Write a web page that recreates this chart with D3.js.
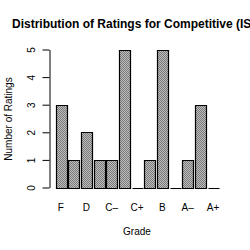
<!DOCTYPE html>
<html>
<head>
<meta charset="utf-8">
<script src="https://cdn.jsdelivr.net/npm/d3@7"></script>
<style>
html,body{margin:0;padding:0;background:#fff;}
svg{display:block;}
text{font-family:"Liberation Sans",Arial,Helvetica,sans-serif;fill:#000;}
</style>
</head>
<body>
<svg id="chart" width="250" height="250"></svg>
<script>
const categories = ["F","D-","D","D+","C-","C","C+","B-","B","B+","A-","A","A+"];
const counts = [3,1,2,1,1,5,0,1,5,0,1,3,0];
const tickLabels = ["F","","D","","C\u2013","","C+","","B","","A\u2013","","A+"];
const yTicks = [0,1,2,3,4,5];
const title = "Distribution of Ratings for Competitive (IS";

const svg = d3.select("#chart");
const defs = svg.append("defs");
const pat = defs.append("pattern").attr("id","dither")
  .attr("patternUnits","userSpaceOnUse").attr("width",2).attr("height",2);
pat.append("rect").attr("width",2).attr("height",2).attr("fill","#bdbdbd");
pat.append("rect").attr("x",0).attr("y",0).attr("width",1).attr("height",1).attr("fill","#7a7a7a");
pat.append("rect").attr("x",1).attr("y",1).attr("width",1).attr("height",1).attr("fill","#7a7a7a");

const x = d3.scaleBand().domain(categories).range([55.5,218.5]).paddingInner(0.15).paddingOuter(0);
const y = d3.scaleLinear().domain([0,5]).range([187.5,49.5]);

svg.append("g").selectAll("path").data(categories).join("path")
  .attr("d", (d,i) => {
    const x0 = Math.round(x(d)) + 0.5;
    const w = Math.round(x.bandwidth());
    const y0 = Math.round(y(0)) + 0.5;
    const y1 = Math.round(y(counts[i])) + 0.5;
    return `M${x0},${y0}H${x0+w}V${y1}H${x0}Z`;
  })
  .attr("fill","url(#dither)")
  .attr("stroke","#000").attr("stroke-width",1.2);

const yAxis = svg.append("g").attr("transform","translate(49.5,0)")
  .call(d3.axisLeft(y).tickValues(yTicks).tickFormat(d3.format("d")).tickSize(7).tickSizeOuter(0));
yAxis.select(".domain").attr("stroke","#000").attr("stroke-width",1);
yAxis.selectAll(".tick line").attr("stroke","#000");
yAxis.selectAll(".tick text")
  .attr("x",null).attr("dy",null)
  .attr("transform","translate(-15,0) rotate(-90)")
  .attr("text-anchor","middle")
  .style("font-size","10px")
  .style("font-family","'Liberation Sans',Arial,sans-serif");

svg.append("g").selectAll("text").data(categories).join("text")
  .attr("x", d => x(d) + x.bandwidth()/2)
  .attr("y", 211)
  .attr("text-anchor","middle")
  .style("font-size","10px")
  .text((d,i) => tickLabels[i]);

svg.append("text").attr("x",137).attr("y",235).attr("text-anchor","middle")
  .style("font-size","10px").text("Grade");

svg.append("text").attr("transform","translate(12,119) rotate(-90)")
  .attr("text-anchor","middle").style("font-size","10px").text("Number of Ratings");

svg.append("text").attr("x",12).attr("y",28)
  .style("font-size","12px").style("font-weight","bold").text(title);
</script>
</body>
</html>
